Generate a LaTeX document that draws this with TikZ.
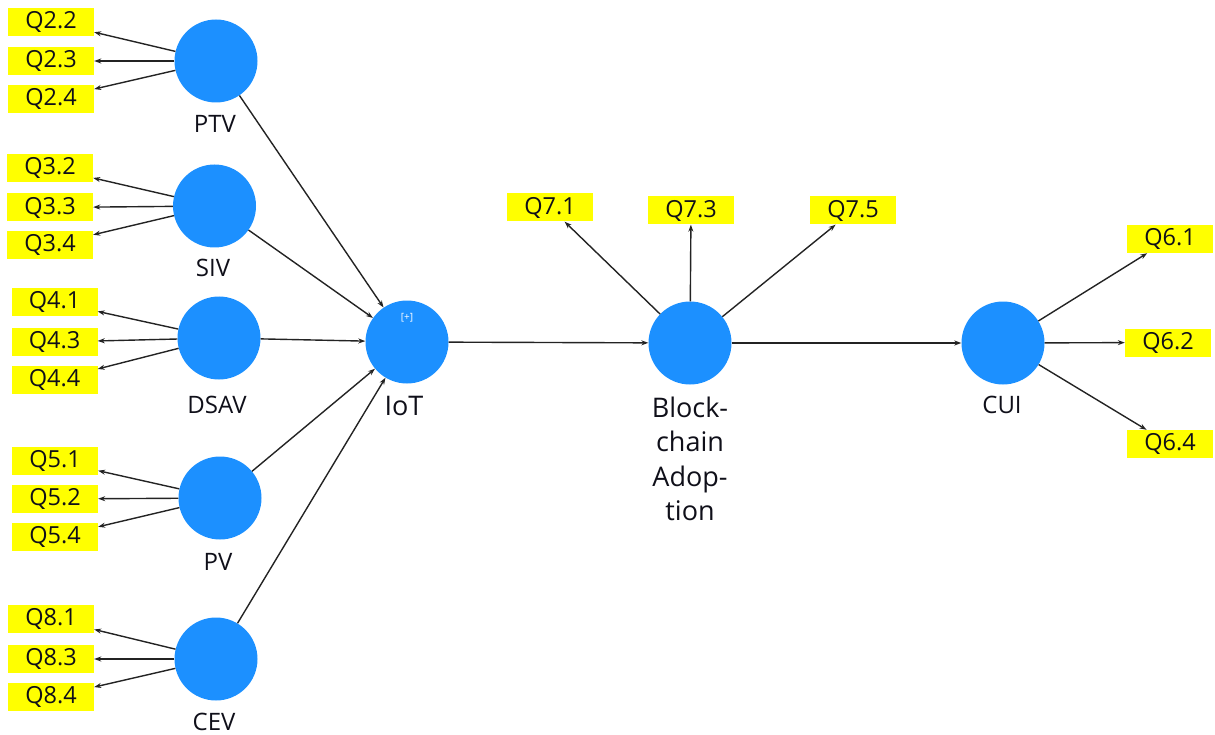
\documentclass[tikz,border=0pt]{standalone}
\usepackage{fontspec}
\setmainfont{Open Sans}
\usetikzlibrary{arrows.meta}
\definecolor{lvblue}{RGB}{28,144,255}
\definecolor{indyel}{RGB}{255,255,0}
\definecolor{linegray}{RGB}{35,35,35}
\definecolor{txtdark}{RGB}{15,15,25}
\begin{document}
\begin{tikzpicture}[x=1pt,y=-1pt,
  lv/.style={circle, fill=lvblue, minimum size=83pt, inner sep=0pt},
  ind/.style={fill=indyel, minimum width=86pt, minimum height=28pt, inner sep=0pt, text=txtdark, font=\fontsize{23.5}{26}\selectfont},
  lvname/.style={text=txtdark, font=\fontsize{24}{28}\selectfont},
  bigname/.style={text=txtdark, align=center, font=\fontsize{27}{34.5}\selectfont},
  conn/.style={draw=linegray, line width=1.4pt, -{Stealth[length=7pt,width=5pt]}}
]
\useasboundingbox (0,0) rectangle (1215,735);

% latent variables
\node[lv] (PTV)  at (216,61) {};
\node[lv] (SIV)  at (214.5,206) {};
\node[lv] (DSAV) at (219,338) {};
\node[lv] (PV)   at (220,498) {};
\node[lv] (CEV)  at (216,659) {};
\node[lv] (IoT)  at (407,342) {};
\node[lv] (BA)   at (690,343) {};
\node[lv] (CUI)  at (1003,343) {};

\node[text=white, font=\fontsize{10}{11}\selectfont] (plus) at (407,318) {[+]};

% names
\node[lvname] (nPTV)  at (215,124) {PTV};
\node[lvname] (nSIV)  at (213,268) {SIV};
\node[lvname] (nDSAV) at (217,405) {DSAV};
\node[lvname] (nPV)   at (218,562) {PV};
\node[lvname] (nCEV)  at (214,722) {CEV};
\node[lvname] (nCUI)  at (1002,405) {CUI};
\node[bigname] (nIoT) at (404,406) {IoT};
\node[bigname, anchor=north] (nBA) at (690,393) {Block-\\chain\\Adop-\\tion};

% indicators
\node[ind] (q22) at (51,22) {Q2.2};
\node[ind] (q23) at (51,61) {Q2.3};
\node[ind] (q24) at (51,99) {Q2.4};
\node[ind] (q32) at (50,168) {Q3.2};
\node[ind] (q33) at (50,207.5) {Q3.3};
\node[ind] (q34) at (50,245) {Q3.4};
\node[ind] (q41) at (54.5,302) {Q4.1};
\node[ind] (q43) at (54.5,342) {Q4.3};
\node[ind] (q44) at (54.5,380) {Q4.4};
\node[ind] (q51) at (55,461) {Q5.1};
\node[ind] (q52) at (55,499) {Q5.2};
\node[ind] (q54) at (55,537) {Q5.4};
\node[ind] (q81) at (51,619) {Q8.1};
\node[ind] (q83) at (51,659) {Q8.3};
\node[ind] (q84) at (51,697) {Q8.4};
\node[ind] (q71) at (550,207.5) {Q7.1};
\node[ind] (q73) at (691,210.5) {Q7.3};
\node[ind] (q75) at (853,210.5) {Q7.5};
\node[ind] (q61) at (1170,239) {Q6.1};
\node[ind] (q62) at (1168,342.5) {Q6.2};
\node[ind] (q64) at (1170,444) {Q6.4};

% outer loadings
\foreach \lvn/\a/\b/\c in {PTV/q22/q23/q24, SIV/q32/q33/q34, DSAV/q41/q43/q44, PV/q51/q52/q54, CEV/q81/q83/q84, BA/q71/q73/q75, CUI/q61/q62/q64}{
  \draw[conn] (\lvn) -- (\a);
  \draw[conn] (\lvn) -- (\b);
  \draw[conn] (\lvn) -- (\c);
}

% structural paths
\draw[conn] (PTV) -- (IoT);
\draw[conn] (SIV) -- (IoT);
\draw[conn] (DSAV) -- (IoT);
\draw[conn] (PV) -- (IoT);
\draw[conn] (CEV) -- (IoT);
\draw[conn] (IoT) -- (BA);
\draw[conn] (BA) -- (CUI);
\end{tikzpicture}
\end{document}
